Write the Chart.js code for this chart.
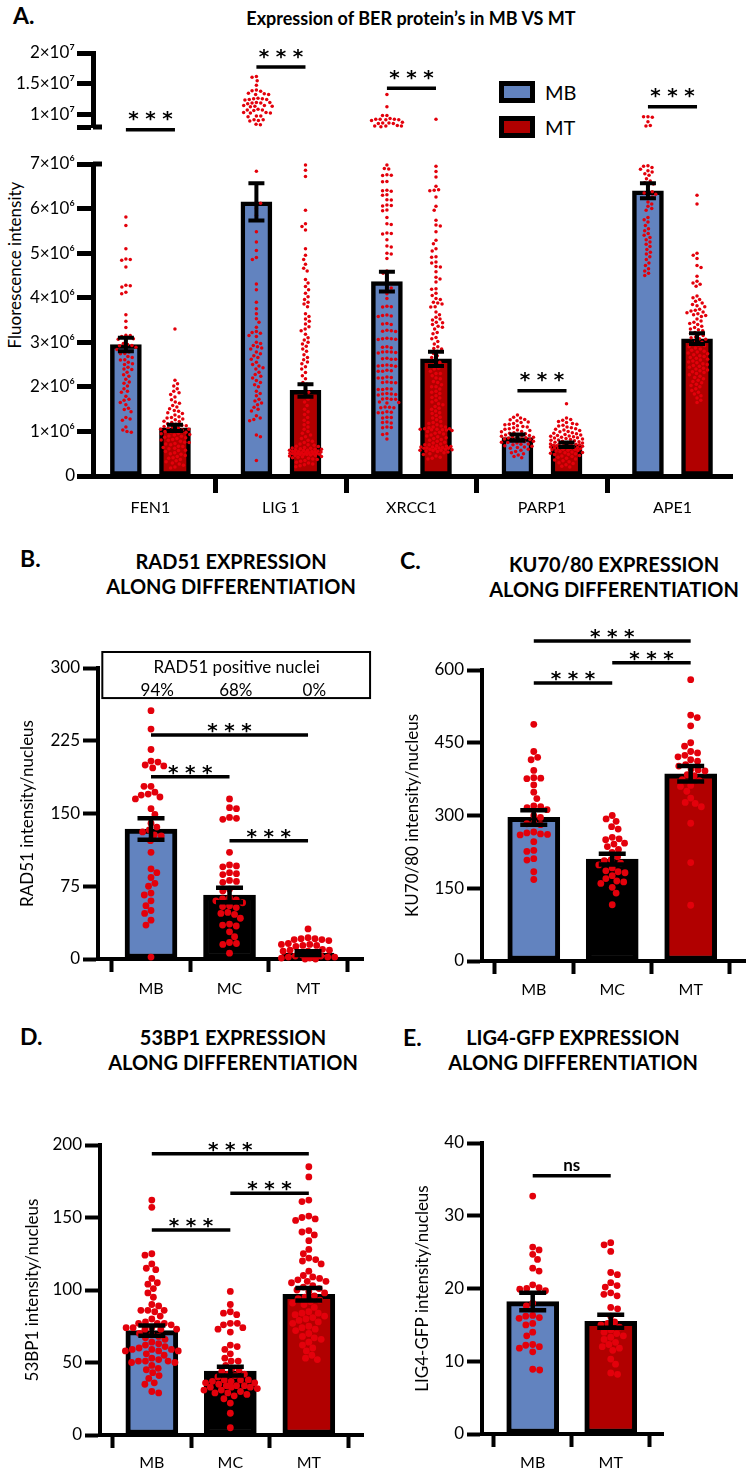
<!DOCTYPE html>
<html>
<head>
<meta charset="utf-8">
<script src="https://cdn.jsdelivr.net/npm/chart.js"></script>
<style>
html,body{margin:0;padding:0;background:#fff;}
body{position:relative;width:749px;height:1473px;overflow:hidden;font-family:Lato,'Noto Sans',sans-serif;color:#000;}
canvas{position:absolute;}
.t{position:absolute;white-space:nowrap;}
.letter{font-size:23px;font-weight:bold;line-height:26px;}
.ptitle{font-size:20px;font-weight:bold;line-height:25px;text-align:center;}
.lgbox{position:absolute;box-sizing:border-box;border:5px solid #000;width:36px;height:22px;}
.lgtxt{position:absolute;font-size:20px;line-height:22px;}
</style>
</head>
<body>
<div class="t letter" style="left:13px;top:2px">A.</div>
<div class="t" style="left:111px;top:7px;width:600px;text-align:center;font-size:18px;font-weight:bold;line-height:22px">Expression of BER protein’s in MB VS MT</div>
<div class="t" style="left:14px;top:265px;font-size:17px;transform:translate(-50%,-50%) rotate(-90deg)">Fluorescence intensity</div>
<div class="lgbox" style="left:499px;top:81px;background:#6283bf"></div>
<div class="lgtxt" style="left:545px;top:81px">MB</div>
<div class="lgbox" style="left:499px;top:116px;background:#b10000"></div>
<div class="lgtxt" style="left:545px;top:116px">MT</div>

<div class="t letter" style="left:20px;top:545px">B.</div>
<div class="t ptitle" style="left:61px;top:549px;width:340px">RAD51 EXPRESSION<br>ALONG DIFFERENTIATION</div>
<div class="t letter" style="left:400px;top:547px">C.</div>
<div class="t ptitle" style="left:464px;top:552px;width:300px">KU70/80 EXPRESSION<br>ALONG DIFFERENTIATION</div>
<div class="t letter" style="left:20px;top:1023px">D.</div>
<div class="t ptitle" style="left:63px;top:1025px;width:340px">53BP1 EXPRESSION<br>ALONG DIFFERENTIATION</div>
<div class="t letter" style="left:403px;top:1024px">E.</div>
<div class="t ptitle" style="left:423px;top:1025px;width:300px">LIG4-GFP EXPRESSION<br>ALONG DIFFERENTIATION</div>

<script>
// ================= DATA =================
const M = 1e6;
// ---- Panel A : BER proteins, values in units of 10^6 ----
const berCategories = ['FEN1', 'LIG 1', 'XRCC1', 'PARP1', 'APE1'];
const berSeries = ['MB', 'MT'];
const berMeanMB = [2.95, 6.15, 4.36, 0.86, 6.40];
const berMeanMT = [1.08, 1.92, 2.63, 0.70, 3.08];
const berSemMB = [0.15, 0.42, 0.22, 0.07, 0.17];
const berSemMT = [0.07, 0.14, 0.16, 0.05, 0.12];
const berLowerTicks = [0, 1, 2, 3, 4, 5, 6, 7];
const berLowerLabels = ['0', '1×10⁶', '2×10⁶', '3×10⁶', '4×10⁶', '5×10⁶', '6×10⁶', '7×10⁶'];
const berUpperTicks = [10, 15, 20];
const berUpperLabels = ['1×10⁷', '1.5×10⁷', '2×10⁷'];

const fen1MB = [5.81,5.62,5.10,4.87,4.86,4.84,4.69,4.28,4.27,4.24,4.12,4.09,3.62,3.47,3.33,3.16,3.15,3.13,3.08,3.07,3.05,2.97,2.95,2.93,2.92,2.89,2.85,2.84,2.78,2.75,2.74,2.68,2.66,2.61,2.60,2.55,2.52,2.50,2.44,2.40,2.39,2.33,2.27,2.24,2.17,2.11,2.08,2.02,1.96,1.90,1.88,1.79,1.72,1.70,1.65,1.60,1.52,1.49,1.44,1.31,1.28,1.25,1.10,1.03,1.00,0.98];
const fen1MT = [3.30,2.15,2.07,2.02,1.96,1.90,1.87,1.83,1.77,1.71,1.66,1.63,1.58,1.55,1.51,1.47,1.45,1.42,1.40,1.37,1.33,1.31,1.30,1.28,1.26,1.23,1.22,1.20,1.17,1.16,1.14,1.13,1.11,1.10,1.08,1.07,1.05,1.05,1.03,1.02,1.00,0.99,0.98,0.96,0.95,0.93,0.92,0.90,0.89,0.87,0.86,0.84,0.82,0.81,0.80,0.78,0.76,0.75,0.73,0.72,0.70,0.67,0.66,0.64,0.62,0.61,0.58,0.57,0.55,0.52,0.50,0.49,0.46,0.44,0.41,0.40,0.37,0.34,0.32,0.29,0.27,0.24,0.20,0.18];
const lig1MB = [16.2,16.1,15.5,14.8,14.0,13.9,13.8,13.5,13.4,13.3,13.3,12.7,12.6,12.6,12.5,12.5,12.4,12.0,12.0,11.9,11.9,11.8,11.5,11.5,11.4,11.4,11.3,10.9,10.8,10.8,10.7,10.4,10.4,10.3,10.3,9.8,9.8,9.7,9.2,9.2,9.1,9.0,8.5,8.4,
  6.84,6.15,6.12,6.00,5.85,5.48,5.25,5.06,4.90,4.86,4.31,4.18,3.90,3.75,3.64,3.53,3.45,3.34,3.24,3.22,3.20,3.15,3.13,3.00,2.97,2.93,2.90,2.87,2.85,2.78,2.74,2.70,2.66,2.62,2.55,2.50,2.47,2.43,2.40,2.33,2.28,2.24,2.20,2.14,2.10,2.05,2.00,1.90,1.85,1.80,1.72,1.68,1.64,1.60,1.54,1.50,1.46,1.35,1.30,1.27,1.24,0.92,0.88,0.35];
const lig1MT = [6.98,6.86,6.72,5.96,5.66,5.60,5.52,5.10,4.95,4.86,4.75,4.66,4.60,4.41,4.33,4.25,4.18,4.10,4.02,3.96,3.90,3.86,3.80,3.64,3.58,3.52,3.47,3.41,3.35,3.30,3.26,3.18,3.10,3.05,3.00,2.96,2.91,2.85,2.80,2.72,2.66,2.61,2.56,2.52,2.45,2.40,2.32,2.25,2.18,2.10,2.06,1.95,1.88,1.80,1.72,1.66,1.58,1.50,1.44,1.38,1.31,1.25,1.20,1.15,1.10,1.05,1.00,0.96,0.92,0.88,0.84,0.80,0.78,0.75,0.72,0.70,0.69,0.67,0.66,0.64,0.63,0.62,0.61,0.60,0.60,0.59,0.58,0.58,0.57,0.56,0.56,0.55,0.55,0.54,0.54,0.53,0.53,0.52,0.52,0.51,0.51,0.50,0.50,0.50,0.49,0.49,0.48,0.48,0.47,0.46,0.46,0.45,0.44,0.43,0.42,0.41,0.40,0.38,0.37,0.35,0.33,0.31,0.29,0.27,0.25,0.23,0.21];
const xrcc1MB = [13.3,11.3,9.9,9.9,9.4,9.3,9.3,9.3,9.2,9.2,9.1,8.8,8.7,8.7,8.6,8.6,8.3,8.2,8.2,8.2,8.1,
  6.98,6.90,6.89,6.76,6.75,6.74,6.61,6.60,6.41,6.40,6.39,6.31,6.30,6.20,6.19,6.08,6.07,6.06,5.97,5.95,5.80,5.66,5.64,5.45,5.44,5.43,5.30,5.16,5.14,5.00,4.98,4.88,4.60,4.55,4.45,
  4.24,4.22,4.09,3.98,3.81,3.80,3.79,3.61,3.60,3.59,3.58,3.42,3.41,3.40,3.27,3.26,3.25,3.24,3.09,3.08,3.08,3.07,3.06,2.90,2.89,2.88,2.79,2.78,2.78,2.77,2.76,2.64,2.63,2.62,2.62,2.49,2.48,2.48,2.47,2.46,2.37,2.36,2.35,2.35,2.22,2.21,2.20,2.20,2.11,2.10,2.10,2.09,1.96,1.95,1.94,1.94,1.85,1.84,1.84,1.83,1.82,1.74,1.73,1.72,1.72,1.66,1.65,1.64,1.55,1.54,1.53,1.53,1.44,1.43,1.42,1.42,1.32,1.31,1.30,1.21,1.20,1.19,1.10,1.09,1.08,0.95,0.93,0.83];
const xrcc1MT = [9.3,
  6.95,6.83,6.71,6.50,6.42,6.41,6.40,6.26,6.05,5.96,5.74,5.63,5.61,5.48,5.29,5.21,5.10,5.05,4.92,4.91,4.80,4.78,4.70,4.69,4.58,4.46,4.42,4.35,4.20,4.19,4.10,4.05,3.98,3.96,3.90,3.88,3.86,3.80,3.79,3.68,3.62,3.56,3.52,3.50,3.45,3.44,3.40,3.36,3.34,3.30,3.22,3.19,3.11,3.08,3.02,2.96,2.90,2.86,2.85,2.80,2.75,2.70,2.66,2.60,
  2.55,2.50,2.48,2.42,2.40,2.35,2.30,2.30,2.25,2.20,2.18,2.12,2.10,2.05,2.00,2.00,1.95,1.90,1.88,1.85,1.80,1.76,1.75,1.70,1.66,1.62,1.60,1.56,1.52,1.50,1.46,1.42,1.40,1.36,1.32,1.30,1.26,1.22,1.20,1.18,1.15,1.12,1.10,1.10,1.08,1.06,1.06,1.05,1.05,1.04,1.04,1.03,1.02,1.00,0.98,0.96,0.94,0.92,0.90,0.88,0.86,0.84,0.82,0.80,0.78,0.76,0.74,0.72,0.70,0.70,0.68,0.67,0.66,0.65,0.65,0.64,0.63,0.63,0.62,0.62,0.61,0.60,0.60,0.59,0.58,0.58,0.57,0.56,0.55,0.54,0.52,0.50,0.48,0.45,0.42,0.40,0.38];
const parp1MB = [1.37,1.32,1.30,1.27,1.26,1.24,1.21,1.20,1.18,1.16,1.15,1.13,1.11,1.10,1.08,1.06,1.05,1.03,1.02,1.00,0.99,0.97,0.96,0.95,0.93,0.92,0.91,0.90,0.89,0.88,0.87,0.86,0.85,0.84,0.83,0.82,0.80,0.79,0.78,0.77,0.76,0.75,0.74,0.72,0.71,0.70,0.68,0.67,0.65,0.64,0.62,0.60,0.58,0.55,0.52,0.50,0.47,0.44,0.41];
const parp1MT = [1.62,1.30,1.27,1.25,1.22,1.20,1.18,1.16,1.14,1.12,1.10,1.08,1.06,1.05,1.03,1.02,1.00,0.99,0.97,0.96,0.95,0.93,0.92,0.91,0.90,0.89,0.88,0.87,0.86,0.85,0.84,0.83,0.82,0.81,0.80,0.79,0.78,0.77,0.76,0.75,0.74,0.73,0.72,0.72,0.71,0.70,0.70,0.69,0.68,0.68,0.67,0.66,0.66,0.65,0.64,0.64,0.63,0.62,0.62,0.61,0.60,0.60,0.59,0.58,0.57,0.56,0.55,0.54,0.53,0.52,0.51,0.50,0.49,0.48,0.46,0.45,0.44,0.42,0.40,0.38,0.36,0.34,0.32,0.30,0.28,0.25,0.22,0.20];
const ape1MB = [9.7,9.7,9.6,8.9,8.3,8.2,
  6.96,6.95,6.92,6.88,6.85,6.82,6.78,6.75,6.67,6.62,6.58,6.55,6.50,6.40,6.38,6.35,6.32,6.28,6.26,6.15,6.10,6.05,6.00,5.96,5.80,5.75,5.70,5.62,5.55,5.50,5.44,5.40,5.35,5.30,5.25,5.20,5.15,5.08,5.02,4.98,4.92,4.86,4.78,4.72,4.65,4.60,4.55,4.50];
const ape1MT = [6.30,6.10,5.00,4.95,4.88,4.72,4.68,4.48,4.37,4.33,4.30,4.26,4.04,4.00,3.96,3.92,3.88,3.85,3.82,3.80,3.74,3.72,3.70,3.68,3.66,3.64,3.62,3.60,3.58,3.52,3.48,3.45,3.42,3.40,3.36,3.33,3.30,3.28,3.26,3.22,3.20,3.18,3.15,3.12,3.10,3.08,3.07,3.02,3.00,2.97,2.94,2.92,2.90,2.87,2.85,2.82,2.80,2.78,2.76,2.74,2.72,2.70,2.68,2.66,2.64,2.62,2.60,2.58,2.56,2.54,2.52,2.50,2.48,2.46,2.44,2.42,2.40,2.38,2.36,2.34,2.32,2.30,2.27,2.24,2.21,2.18,2.15,2.12,2.09,2.06,2.03,2.00,1.96,1.92,1.88,1.84,1.80,1.75,1.70,1.65];

// ---- Panel B : RAD51 ----
const stageCategories = ['MB', 'MC', 'MT'];
const rad51Mean = [134, 66, 6];
const rad51Sem = [11, 7.5, 2];
const rad51Ticks = [0, 75, 150, 225, 300];
const rad51MB = [256,237,216,204,203,200,199,197,178,178,172,170,169,167,165,155,149,140,136,133,131,128,127,122,110,93,89,84,78,75,68,66,60,55,50,47,40,35,2];
const rad51MC = [165,156,155,146,145,144,110,97,96,95,89,88,87,81,80,79,72,70,63,62,61,60,58,55,54,53,48,47,46,42,36,35,34,28,23,17,16,15,6];
const rad51MT = [31,22,21,21,20,20,19,16,15,15,14,14,13,10,9,9,8,8,7,4,3,3,2,2,2,1,1,0,0];
const rad51Positive = ['94%', '68%', '0%'];

// ---- Panel C : KU70/80 ----
const kuMean = [296, 210, 386];
const kuSem = [15, 11, 16];
const kuTicks = [0, 150, 300, 450, 600];
const kuMB = [488,432,420,415,393,378,377,376,363,348,335,320,318,316,312,300,296,285,283,281,266,264,262,261,260,246,228,226,211,208,184,168];
const kuMC = [300,293,288,277,272,255,252,250,243,241,236,230,224,215,209,207,202,198,192,186,184,182,176,170,165,163,160,152,140,116];
const kuMT = [580,507,502,485,450,443,432,429,424,421,415,412,405,402,396,394,392,384,382,374,372,362,360,350,336,327,325,318,284,203,115];

// ---- Panel D : 53BP1 ----
const bp1Mean = [72, 44, 97];
const bp1Sem = [3.6, 3.0, 4.3];
const bp1Ticks = [0, 50, 100, 150, 200];
const bp1MB = [162,157,125,124,118,115,114,108,105,104,101,98,95,90,89,86,86,86,85,82,80,78,77,77,77,76,74,74,74,73,73,73,70,69,68,67,66,64,63,62,61,60,59,59,59,58,58,58,56,55,53,52,51,51,51,50,50,48,46,45,43,41,39,36,35,30,29];
const bp1MC = [99,90,85,84,83,77,77,76,74,73,71,62,61,59,56,53,51,51,48,46,45,44,42,42,41,40,38,38,38,37,37,36,36,35,34,34,34,33,33,33,32,31,31,30,29,29,28,27,25,22,15,5];
const bp1MT = [185,178,162,161,151,150,149,148,141,140,138,134,128,125,122,121,120,118,113,110,109,108,107,106,106,105,103,102,101,100,99,98,96,95,94,93,92,91,90,88,85,84,84,83,82,81,80,79,78,77,75,74,73,72,70,68,67,66,64,62,60,58,55,53,52];

// ---- Panel E : LIG4-GFP ----
const lig4Categories = ['MB', 'MT'];
const lig4Mean = [18.2, 15.5];
const lig4Sem = [1.2, 0.9];
const lig4Ticks = [0, 10, 20, 30, 40];
const lig4MB = [32.7,25.7,25.3,24.7,24.0,22.8,22.4,20.5,20.1,20.0,19.9,19.7,18.0,17.6,16.3,16.2,16.0,15.9,15.2,15.0,14.0,13.5,12.3,12.2,12.0,11.8,11.3,8.9,8.8];
const lig4MT = [26.3,26.0,25.1,22.2,21.9,20.8,20.4,20.2,19.4,19.2,19.0,17.4,17.2,16.2,15.4,15.2,15.0,14.7,14.3,14.0,13.8,13.5,13.3,13.0,12.6,12.3,12.0,11.8,11.5,10.3,9.6,8.4,8.2];

// ================= STYLE =================
const COL = {MB: '#6283bf', MC: '#000000', MT: '#b10000'};
const DOT = '#e3000b';

Chart.defaults.font.family = "Lato, 'Noto Sans', sans-serif";
Chart.defaults.color = '#000';
Chart.defaults.animation = false;

function swarmOffsets(ys, d, maxW) {
  const order = ys.map((y, i) => i).sort((a, b) => ys[a] - ys[b]);
  const placed = [];
  const out = new Array(ys.length).fill(0);
  order.forEach((i, k) => {
    const y = ys[i];
    const near = placed.filter(p => Math.abs(p.y - y) < d);
    const ok = x => near.every(p => (p.x - x) * (p.x - x) + (p.y - y) * (p.y - y) >= d * d - 1e-6);
    const cands = [0];
    near.forEach(p => {
      const dx = Math.sqrt(Math.max(0, d * d - (p.y - y) * (p.y - y))) + 1e-4;
      cands.push(p.x + dx, p.x - dx);
    });
    const sgn = k % 2 ? 1 : -1;
    cands.sort((a, b) => (Math.abs(a) - Math.abs(b)) || (sgn * (a - b)));
    let x = null;
    for (const c of cands) { if (Math.abs(c) <= maxW && ok(c)) { x = c; break; } }
    if (x === null) {
      let best = 0, bestD = -1;
      for (let c = -maxW; c <= maxW; c += 0.5) {
        const md = near.reduce((m, p) => Math.min(m, Math.hypot(p.x - c, p.y - y)), Infinity);
        if (md > bestD) { bestD = md; best = c; }
      }
      x = best;
    }
    placed.push({x, y});
    out[i] = x;
  });
  return out;
}

function panel(cfg) {
  const cv = document.createElement('canvas');
  cv.width = cfg.box.w; cv.height = cfg.box.h;
  cv.style.left = cfg.box.x + 'px'; cv.style.top = cfg.box.y + 'px';
  cv.style.width = cfg.box.w + 'px'; cv.style.height = cfg.box.h + 'px';
  document.body.appendChild(cv);
  const showX = cfg.showX !== false;
  const yW = cfg.area.left - cfg.box.x;
  const xH = cfg.box.y + cfg.box.h - cfg.area.bottom;
  const padTop = cfg.area.top - cfg.box.y;
  const padRight = cfg.box.x + cfg.box.w - cfg.area.right;

  const datasets = [];
  if (cfg.bars) {
    datasets.push({
      type: 'bar', order: 3, grouped: false,
      data: cfg.bars.map(b => ({x: b.x, y: b.mean})),
      backgroundColor: cfg.bars.map(b => b.color),
      borderColor: '#000', borderWidth: cfg.barBorder, borderSkipped: false,
      barThickness: cfg.barThickness
    });
  }
  const dotStart = datasets.length;
  cfg.dots.forEach(g => datasets.push({
    type: 'scatter', order: 2, clip: false,
    data: g.values.map(v => ({x: g.x, y: v})),
    pointRadius: cfg.dotR, pointHoverRadius: cfg.dotR,
    pointBackgroundColor: DOT, pointBorderWidth: 0, backgroundColor: DOT, borderWidth: 0
  }));

  const annot = {
    id: 'annot',
    afterDatasetsDraw(chart) {
      if (!cfg.bars || !cfg.err) return;
      const {ctx} = chart, xs = chart.scales.x, ys = chart.scales.y;
      ctx.save();
      ctx.strokeStyle = '#000'; ctx.lineWidth = cfg.err.width; ctx.lineCap = 'butt';
      cfg.bars.forEach(b => {
        const px = xs.getPixelForValue(b.x);
        const t = ys.getPixelForValue(b.mean + b.sem), bt = ys.getPixelForValue(b.mean - b.sem);
        const h = cfg.err.cap / 2;
        ctx.beginPath();
        ctx.moveTo(px, t); ctx.lineTo(px, bt);
        ctx.moveTo(px - h, t); ctx.lineTo(px + h, t);
        ctx.moveTo(px - h, bt); ctx.lineTo(px + h, bt);
        ctx.stroke();
      });
      ctx.restore();
    },
    afterDraw(chart) {
      const {ctx} = chart, xs = chart.scales.x, ys = chart.scales.y;
      ctx.save();
      (cfg.breaks || []).forEach(v => {
        const py = ys.getPixelForValue(v);
        ctx.strokeStyle = '#000'; ctx.lineWidth = cfg.axisW;
        ctx.beginPath(); ctx.moveTo(cfg.area.left - cfg.box.x, py); ctx.lineTo(cfg.area.left - cfg.box.x + 9, py); ctx.stroke();
      });
      (cfg.sigs || []).forEach(s => {
        const x1 = xs.getPixelForValue(s.x1), x2 = xs.getPixelForValue(s.x2), py = ys.getPixelForValue(s.y);
        ctx.strokeStyle = '#000'; ctx.lineWidth = 3.5;
        ctx.beginPath(); ctx.moveTo(x1, py); ctx.lineTo(x2, py); ctx.stroke();
        ctx.fillStyle = '#000'; ctx.textAlign = 'center';
        const xm = (x1 + x2) / 2;
        if (s.label === 'ns') {
          ctx.font = "bold 17px Lato, 'Noto Sans', sans-serif";
          ctx.textBaseline = 'middle';
          ctx.fillText('ns', xm, py - 10);
        } else {
          ctx.font = "bold 20px 'DejaVu Sans'";
          ctx.textBaseline = 'alphabetic';
          const base = py - cfg.starGap + 0.58 * 20;
          [-17, 0, 17].forEach(dx => ctx.fillText('*', xm + dx, base));
        }
      });
      if (cfg.box2) {
        const b = cfg.box2;
        const l = xs.getPixelForValue(b.x0), r = xs.getPixelForValue(b.x1);
        const t = ys.getPixelForValue(b.y1), bt = ys.getPixelForValue(b.y0);
        ctx.strokeStyle = '#000'; ctx.lineWidth = 2;
        ctx.strokeRect(l, t, r - l, bt - t);
        ctx.fillStyle = '#000'; ctx.textAlign = 'center'; ctx.textBaseline = 'middle';
        ctx.font = "17px Lato, 'Noto Sans', sans-serif";
        b.texts.forEach(tx => ctx.fillText(tx.text, xs.getPixelForValue(tx.x), ys.getPixelForValue(tx.y)));
      }
      ctx.restore();
    }
  };

  const chart = new Chart(cv, {
    type: 'bar',
    data: {datasets},
    plugins: [annot],
    options: {
      responsive: false, animation: false, devicePixelRatio: 1,
      events: [],
      layout: {padding: {top: padTop, right: padRight, left: 0, bottom: showX ? 0 : xH}},
      plugins: {legend: {display: false}, tooltip: {enabled: false}, title: {display: false}},
      scales: {
        x: {
          type: 'linear', display: showX, min: cfg.xMin, max: cfg.xMax, offset: false,
          afterFit: s => { s.height = xH; },
          afterBuildTicks: s => { s.ticks = cfg.cats.map((c, i) => ({value: i})); },
          ticks: {autoSkip: false, maxRotation: 0, minRotation: 0, padding: cfg.xPad, color: '#000',
                  font: {size: cfg.xFont}, callback: (v, i) => cfg.cats[i]},
          grid: {display: true, drawOnChartArea: false, drawTicks: true, tickLength: cfg.xTickLen,
                 tickWidth: cfg.axisW, tickColor: '#000'},
          border: {display: true, color: '#000', width: cfg.axisW}
        },
        y: {
          type: 'linear', min: cfg.yMin, max: cfg.yMax,
          afterFit: s => { s.width = yW; },
          afterBuildTicks: s => { s.ticks = cfg.yTicks.map(v => ({value: v})); },
          ticks: {autoSkip: false, padding: cfg.yPad, color: '#000', font: {size: cfg.yFont},
                  callback: (v, i) => cfg.yLabels[i]},
          grid: {display: true, drawOnChartArea: false, drawTicks: true, tickLength: cfg.yTickLen,
                 tickWidth: cfg.axisW, tickColor: '#000'},
          border: {display: true, color: '#000', width: cfg.axisW},
          title: cfg.yTitle ? {display: true, text: cfg.yTitle, color: '#000', font: {size: 17},
                               padding: {top: cfg.yTitlePad, bottom: 0}} : {display: false}
        }
      }
    }
  });

  const xs = chart.scales.x, ys = chart.scales.y;
  const ppu = xs.getPixelForValue(1) - xs.getPixelForValue(0);
  cfg.dots.forEach((g, k) => {
    const pys = g.values.map(v => ys.getPixelForValue(v));
    const offs = swarmOffsets(pys, cfg.dotD, cfg.maxW);
    chart.data.datasets[dotStart + k].data = g.values.map((v, j) => ({x: g.x + offs[j] / ppu, y: v}));
  });
  chart.update('none');
  return chart;
}

function init() {
  // ---------- Panel A ----------
  const berOffset = {MB: -0.188, MT: 0.188};
  const berMeans = {MB: berMeanMB, MT: berMeanMT};
  const berSems = {MB: berSemMB, MT: berSemMT};
  const berPts = {MB: [fen1MB, lig1MB, xrcc1MB, parp1MB, ape1MB], MT: [fen1MT, lig1MT, xrcc1MT, parp1MT, ape1MT]};
  const BREAK_AT = 7.5; // values above are drawn on the upper segment
  const berBars = [], lowerDots = [], upperDots = [];
  berSeries.forEach(s => berCategories.forEach((c, i) => {
    const x = i + berOffset[s];
    berBars.push({x, mean: berMeans[s][i] * M, sem: berSems[s][i] * M, color: COL[s]});
    lowerDots.push({x, values: berPts[s][i].filter(v => v < BREAK_AT).map(v => v * M)});
    const up = berPts[s][i].filter(v => v >= BREAK_AT).map(v => v * M);
    if (up.length) upperDots.push({x, values: up});
  }));
  const aCommon = {cats: berCategories, xMin: -0.44, xMax: 4.456, xFont: 16, xPad: 5, xTickLen: 17,
                   yFont: 17, yPad: 2, yTickLen: 16, axisW: 5, dotR: 1.75, dotD: 4.4, maxW: 16, starGap: 16};
  panel(Object.assign({}, aCommon, {
    box: {x: 0, y: 150, w: 749, h: 380}, area: {left: 93, right: 732, top: 164, bottom: 476},
    yMin: 0, yMax: 7 * M, yTicks: berLowerTicks.map(v => v * M), yLabels: berLowerLabels,
    bars: berBars, barThickness: 31, barBorder: 4.5, err: {width: 4, cap: 16},
    dots: lowerDots,
    sigs: [{x1: 3 + berOffset.MB, x2: 3 + berOffset.MT, y: 1.91 * M, label: '* * *'}],
    breaks: [7 * M]
  }));
  panel(Object.assign({}, aCommon, {
    box: {x: 0, y: 30, w: 749, h: 120}, area: {left: 93, right: 732, top: 53, bottom: 138.5}, showX: false,
    yMin: 8.04 * M, yMax: 20 * M, yTicks: [8.04 * M].concat(berUpperTicks.map(v => v * M)), yLabels: [''].concat(berUpperLabels),
    dots: upperDots,
    sigs: [
      {x1: 0 + berOffset.MB, x2: 0 + berOffset.MT, y: 7.6 * M, label: '* * *'},
      {x1: 1 + berOffset.MB, x2: 1 + berOffset.MT, y: 17.72 * M, label: '* * *'},
      {x1: 2 + berOffset.MB, x2: 2 + berOffset.MT, y: 14.31 * M, label: '* * *'},
      {x1: 4 + berOffset.MB, x2: 4 + berOffset.MT, y: 11.33 * M, label: '* * *'}
    ],
    breaks: [8.04 * M]
  }));

  // ---------- Panels B-E ----------
  const bCommon = {xFont: 16, xTickLen: 13, yFont: 17, yPad: 3, yTickLen: 15, axisW: 4,
                   barThickness: 52, barBorder: 5, err: {width: 4.5, cap: 27},
                   dotR: 3.4, dotD: 7, maxW: 27, starGap: 9.5};
  const mkBars = (cats, means, sems) => cats.map((c, i) => ({x: i, mean: means[i], sem: sems[i], color: COL[c]}));
  const mkDots = (arrs) => arrs.map((a, i) => ({x: i, values: a}));

  panel(Object.assign({}, bCommon, {
    box: {x: 0, y: 600, w: 375, h: 410}, area: {left: 98, right: 363, top: 668, bottom: 959},
    cats: stageCategories, xMin: -0.675, xMax: 2.70, xPad: 7,
    yMin: 0, yMax: 300, yTicks: rad51Ticks, yLabels: rad51Ticks.map(String),
    yTitle: 'RAD51 intensity/nucleus', yTitlePad: 17,
    bars: mkBars(stageCategories, rad51Mean, rad51Sem), dots: mkDots([rad51MB, rad51MC, rad51MT]),
    sigs: [{x1: 0, x2: 2, y: 231, label: '* * *'}, {x1: 0, x2: 1, y: 188, label: '* * *'}, {x1: 1, x2: 2, y: 122, label: '* * *'}],
    box2: {x0: -0.62, x1: 2.79, y0: 269, y1: 316.5,
           texts: [{text: 'RAD51 positive nuclei', x: 1.09, y: 300}].concat(rad51Positive.map((p, i) => ({text: p, x: i + 0.08, y: 277})))}
  }));

  panel(Object.assign({}, bCommon, {
    box: {x: 375, y: 600, w: 374, h: 410}, area: {left: 482, right: 747, top: 670, bottom: 961},
    cats: stageCategories, xMin: -0.66, xMax: 2.70, xPad: 6,
    yMin: 0, yMax: 600, yTicks: kuTicks, yLabels: kuTicks.map(String),
    yTitle: 'KU70/80 intensity/nucleus', yTitlePad: 27,
    bars: mkBars(stageCategories, kuMean, kuSem), dots: mkDots([kuMB, kuMC, kuMT]),
    sigs: [{x1: 0, x2: 2, y: 660, label: '* * *'}, {x1: 1, x2: 2, y: 615, label: '* * *'}, {x1: 0, x2: 1, y: 573, label: '* * *'}]
  }));

  panel(Object.assign({}, bCommon, {
    box: {x: 0, y: 1090, w: 375, h: 383}, area: {left: 100, right: 363, top: 1145, bottom: 1435},
    cats: stageCategories, xMin: -0.66, xMax: 2.69, xPad: 5,
    yMin: 0, yMax: 200, yTicks: bp1Ticks, yLabels: bp1Ticks.map(String),
    yTitle: '53BP1 intensity/nucleus', yTitlePad: 22,
    bars: mkBars(stageCategories, bp1Mean, bp1Sem), dots: mkDots([bp1MB, bp1MC, bp1MT]),
    sigs: [{x1: 0, x2: 2, y: 194, label: '* * *'}, {x1: 1, x2: 2, y: 166.7, label: '* * *'}, {x1: 0, x2: 1, y: 141.4, label: '* * *'}]
  }));

  panel(Object.assign({}, bCommon, {
    box: {x: 375, y: 1090, w: 374, h: 383}, area: {left: 482, right: 663, top: 1143, bottom: 1434},
    cats: lig4Categories, xMin: -0.65, xMax: 1.67, xPad: 6,
    yMin: 0, yMax: 40, yTicks: lig4Ticks, yLabels: lig4Ticks.map(String),
    yTitle: 'LIG4-GFP intensity/nucleus', yTitlePad: 37,
    bars: mkBars(lig4Categories, lig4Mean, lig4Sem), dots: mkDots([lig4MB, lig4MT]),
    sigs: [{x1: 0, x2: 1, y: 35.5, label: 'ns'}]
  }));
}
init();
</script>
</body>
</html>
